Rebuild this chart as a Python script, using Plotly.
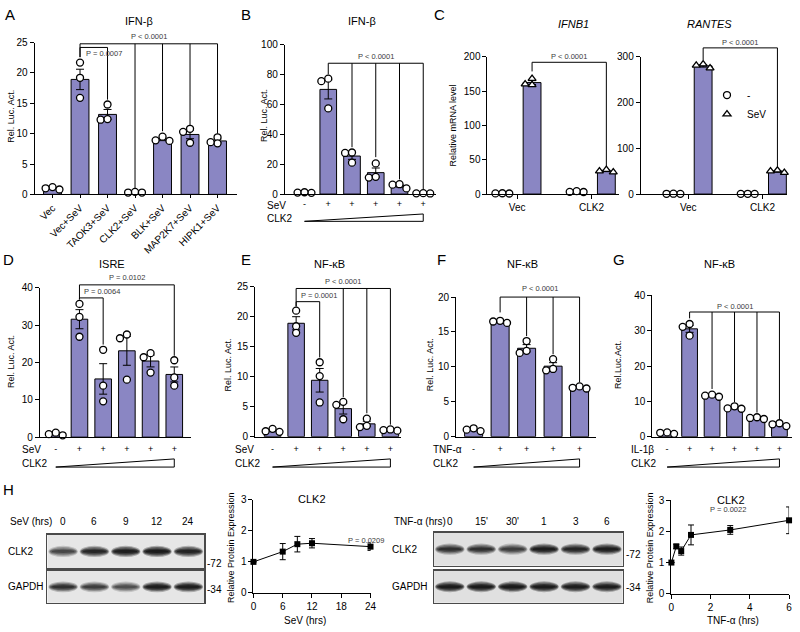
import numpy as np
import plotly.graph_objects as go

W, H = 800, 632
FONT = "Liberation Sans, Arial, Helvetica, sans-serif"
BAR_COLOR = "#8a86c3"
P_COLOR = "#3a3a3a"

# ---------------- data ----------------
A_CATS = ["Vec", "Vec+SeV", "TAOK3+SeV", "CLK2+SeV", "BLK+SeV", "MAP2K7+SeV", "HIPK1+SeV"]
A_PTS = [[0.8, 1.2, 1.0], [21.7, 19.2, 15.9], [14.8, 12.3, 12.4], [0.3, 0.4, 0.3],
         [9.5, 8.8, 8.9], [10.3, 8.5, 10.8], [9.4, 8.4, 8.6]]

B_SEV = ["-", "+", "+", "+", "+", "+"]
B_PTS = [[0.8, 1.0, 1.2], [75.5, 57.3, 77.2], [27.5, 27.8, 21.0], [20.5, 11.0, 11.5],
         [6.3, 3.8, 6.6], [0.4, 0.5, 0.6]]

C_GROUPS = ["Vec", "CLK2"]
C_IFNB1_MOCK = [[1.0, 0.8, 1.2], [3.0, 4.2, 3.2]]
C_IFNB1_SEV = [[160.0, 168.0, 159.0], [33.5, 35.5, 32.0]]
C_RANTES_MOCK = [[0.6, 0.5, 0.8], [0.5, 0.6, 0.4]]
C_RANTES_SEV = [[275.0, 284.0, 281.0], [47.0, 52.0, 50.0]]

D_SEV = ["-", "+", "+", "+", "+", "+"]
D_PTS = [[0.5, 1.2, 0.8], [35.7, 32.2, 26.9], [23.4, 13.8, 9.6], [26.5, 27.5, 15.4],
         [21.4, 22.5, 17.3], [20.6, 16.0, 13.8]]

E_SEV = ["-", "+", "+", "+", "+", "+"]
E_PTS = [[1.3, 0.8, 0.9], [21.0, 18.4, 17.3], [12.4, 10.1, 5.7], [5.3, 5.8, 2.9],
         [3.0, 1.6, 1.8], [1.1, 1.0, 1.2]]

F_TNF = ["-", "+", "+", "+", "+"]
F_PTS = [[0.8, 1.2, 1.0], [16.3, 16.6, 16.5], [13.7, 12.0, 12.3], [11.1, 9.5, 9.7],
         [7.2, 6.9, 7.0]]

G_IL1B = ["-", "+", "+", "+", "+", "+"]
G_PTS = [[0.8, 1.1, 1.2], [31.9, 31.1, 28.6], [11.6, 11.9, 11.3], [8.6, 8.0, 7.9],
         [5.5, 5.0, 5.3], [3.8, 3.0, 3.5]]

H_SEV_LANES = ["0", "6", "9", "12", "24"]
H_SEV_CLK2_BAND = [0.55, 0.8, 0.9, 0.95, 0.85]
H_SEV_GAPDH_BAND = [0.7, 0.6, 0.5, 0.9, 0.9]
H_SEV_T = [0, 6, 9, 12, 24]
H_SEV_MEAN = [1.0, 1.33, 1.57, 1.6, 1.49]
H_SEV_SEM = [0.0, 0.26, 0.25, 0.15, 0.12]

H_TNF_LANES = ["0", "15'", "30'", "1", "3", "6"]
H_TNF_CLK2_BAND = [0.7, 0.7, 0.6, 0.9, 0.8, 0.9]
H_TNF_GAPDH_BAND = [0.95, 0.95, 0.95, 0.93, 0.92, 0.9]
H_TNF_T = [0, 0.25, 0.5, 1, 3, 6]
H_TNF_MEAN = [1.0, 1.52, 1.37, 1.89, 2.05, 2.36]
H_TNF_SEM = [0.0, 0.07, 0.13, 0.32, 0.14, 0.43]

# ---------------- helpers ----------------
layout = dict(width=W, height=H, autosize=False, margin=dict(l=0, r=0, t=0, b=0),
              paper_bgcolor="white", plot_bgcolor="rgba(0,0,0,0)",
              font=dict(family=FONT, size=10, color="black"), showlegend=True,
              legend=dict(x=712 / W, y=1 - 76 / H, xanchor="left", yanchor="top",
                          bgcolor="rgba(0,0,0,0)", font=dict(family=FONT, size=10),
                          itemwidth=30, tracegroupgap=0))
traces, shapes, annots = [], [], []
_n = [0]


def add_axes(xd, yd, xkw, ykw):
    _n[0] += 1
    s = "" if _n[0] == 1 else str(_n[0])
    layout["xaxis" + s] = dict(domain=xd, anchor="y" + s, **xkw)
    layout["yaxis" + s] = dict(domain=yd, anchor="x" + s, **ykw)
    return "x" + s, "y" + s


def ax(**kw):
    d = dict(showgrid=False, zeroline=False, showline=True, linecolor="black", linewidth=1,
             ticks="outside", ticklen=4, tickwidth=1, tickcolor="black",
             tickfont=dict(family=FONT, size=10, color="black"), fixedrange=True)
    d.update(kw)
    return d


def hid(r):
    return dict(visible=False, range=r, fixedrange=True)


def text(x, y, s, size=10, xanchor="center", yanchor="middle", color="black", angle=0):
    annots.append(dict(x=x / W, y=1 - y / H, xref="paper", yref="paper", text=s, showarrow=False,
                       xanchor=xanchor, yanchor=yanchor, textangle=angle,
                       font=dict(family=FONT, size=size, color=color)))


def beeswarm(vals, scale, ppc, diam=7.0):
    order = sorted(range(len(vals)), key=lambda i: -vals[i])
    placed, offs = [], [0.0] * len(vals)
    for i in order:
        py = vals[i] * scale
        px = 0.0
        for c in [0, -1, 1, -2, 2]:
            px = c * diam
            if all((px - qx) ** 2 + (py - qy) ** 2 >= (diam * 0.85) ** 2 for qx, qy in placed):
                break
        placed.append((px, py))
        offs[i] = px / ppc
    return offs


def add_points(xa, ya, centers, groups, scale, ppc, symbol="circle", name=None):
    xs, ys = [], []
    for c, p in zip(centers, groups):
        offs = beeswarm(p, scale, ppc)
        xs += [c + o for o in offs]
        ys += list(p)
    traces.append(go.Scatter(x=xs, y=ys, mode="markers", name=name or "",
                             showlegend=name is not None,
                             marker=dict(symbol=symbol, size=7, color="white",
                                         line=dict(color="black", width=1.3)),
                             xaxis=xa, yaxis=ya, cliponaxis=False, hoverinfo="skip"))


def add_bars(xa, ya, centers, groups, width):
    means = [float(np.mean(p)) for p in groups]
    sems = [float(np.std(p, ddof=1) / np.sqrt(len(p))) for p in groups]
    traces.append(go.Bar(x=centers, y=means, width=width, showlegend=False,
                         marker=dict(color=BAR_COLOR, line=dict(color="black", width=1)),
                         xaxis=xa, yaxis=ya, hoverinfo="skip"))
    traces.append(go.Scatter(x=centers, y=means, mode="markers", showlegend=False,
                             marker=dict(size=1, color="rgba(0,0,0,0)"),
                             error_y=dict(type="data", array=sems, color="black", thickness=1, width=4),
                             xaxis=xa, yaxis=ya, cliponaxis=False, hoverinfo="skip"))


def bar_panel(pts, xl, xr, y0, ytv, ytp, xrange, yticks, bar_w, top_px, bottom_px, xlabels=None):
    scale = (y0 - ytp) / ytv
    xd = [xl / W, xr / W]
    xkw = ax(range=xrange, ticks="", showticklabels=False)
    if xlabels is not None:
        xkw.update(tickvals=list(range(len(xlabels))), ticktext=xlabels, tickangle=-45,
                   ticks="outside", ticklen=3, showticklabels=True)
    xa, ya = add_axes(xd, [1 - y0 / H, 1 - ytp / H], xkw, ax(range=[0, ytv], tickvals=yticks))
    xo, yo = add_axes(xd, [1 - bottom_px / H, 1 - top_px / H], hid(xrange),
                      hid([-(bottom_px - y0) / scale, (y0 - top_px) / scale]))
    ppc = (xr - xl) / (xrange[1] - xrange[0])
    pos = list(range(len(pts)))
    add_bars(xa, ya, pos, pts, bar_w)
    add_points(xa, ya, pos, pts, scale, ppc)
    return dict(xa=xa, ya=ya, xo=xo, yo=yo, n=len(pts), v=lambda py: (y0 - py) / scale)


def bracket(P, y, drops, label, ly, lx=None, anchor="center"):
    xs = [d[0] for d in drops]
    X, Y = [min(xs), max(xs), None], [y, y, None]
    for dx, dy in drops:
        X += [dx, dx, None]
        Y += [y, dy, None]
    traces.append(go.Scatter(x=X, y=Y, mode="lines", showlegend=False, line=dict(color="black", width=1),
                             xaxis=P["xo"], yaxis=P["yo"], hoverinfo="skip"))
    if lx is None:
        lx = (min(xs) + max(xs)) / 2
    annots.append(dict(x=lx, y=ly, xref=P["xo"], yref=P["yo"], text=label, showarrow=False,
                       xanchor=anchor, yanchor="middle",
                       font=dict(family=FONT, size=7.5, color=P_COLOR)))


def treat_rows(P, name, signs, row_px, wedge_top, wedge_bot, clk_px, label_x):
    n = P["n"]
    yv = P["v"](row_px)
    traces.append(go.Scatter(x=list(range(n)), y=[yv] * n, mode="text", text=signs, showlegend=False,
                             textfont=dict(family=FONT, size=9, color="black"),
                             xaxis=P["xo"], yaxis=P["yo"], hoverinfo="skip"))
    wt, wb = P["v"](wedge_top), P["v"](wedge_bot)
    traces.append(go.Scatter(x=[0, n - 1, n - 1, 0], y=[wb, wt, wb, wb], mode="lines", fill="toself",
                             fillcolor="white", line=dict(color="black", width=1), showlegend=False,
                             xaxis=P["xo"], yaxis=P["yo"], hoverinfo="skip"))
    text(label_x, row_px, name, size=10, xanchor="left")
    text(label_x, clk_px, "CLK2", size=10, xanchor="left")


def c_panel(mock, sev, xl, xr, y0, ytv, ytp, xrange, yticks, top_px, legend=False):
    scale = (y0 - ytp) / ytv
    xd = [xl / W, xr / W]
    xa, ya = add_axes(xd, [1 - y0 / H, 1 - ytp / H],
                      ax(range=xrange, tickvals=[0, 1], ticktext=C_GROUPS),
                      ax(range=[0, ytv], tickvals=yticks))
    xo, yo = add_axes(xd, [1 - (y0 + 5) / H, 1 - top_px / H], hid(xrange),
                      hid([-5 / scale, (y0 - top_px) / scale]))
    ppc = (xr - xl) / (xrange[1] - xrange[0])
    mpos = [i - 0.2 for i in range(len(C_GROUPS))]
    spos = [i + 0.2 for i in range(len(C_GROUPS))]
    add_bars(xa, ya, mpos + spos, mock + sev, 0.24)
    add_points(xa, ya, mpos, mock, scale, ppc, "circle", "-" if legend else None)
    add_points(xa, ya, spos, sev, scale, ppc, "triangle-up", "SeV" if legend else None)
    return dict(xa=xa, ya=ya, xo=xo, yo=yo, n=2, v=lambda py: (y0 - py) / scale)


def blot(lanes, bands, xl, xr, boxes, lane_y, cond, cond_x, mw, mw_y, bg):
    n = len(lanes)
    first = None
    for (top, bot), inten, rname, mwt, my in zip(boxes, bands, ["CLK2", "GAPDH"], mw, mw_y):
        xa, ya = add_axes([xl / W, xr / W], [1 - bot / H, 1 - top / H],
                          dict(range=[-0.5, n - 0.5], showgrid=False, zeroline=False, showline=True,
                               mirror=True, linecolor="#4a4a4a", linewidth=1.5, ticks="",
                               showticklabels=False, fixedrange=True),
                          dict(range=[0, 1], showgrid=False, zeroline=False, showline=True,
                               mirror=True, linecolor="#4a4a4a", linewidth=1.5, ticks="",
                               showticklabels=False, fixedrange=True))
        if first is None:
            first = xa
        shapes.append(dict(type="rect", xref=xa + " domain", yref=ya + " domain", x0=0, x1=1, y0=0, y1=1,
                           fillcolor=bg, line=dict(width=0), layer="below"))
        for i, I in enumerate(inten):
            for hw, hh, a in [(0.47, 0.17, 0.3), (0.45, 0.13, 0.45), (0.42, 0.09, 0.6), (0.37, 0.05, 0.7)]:
                shapes.append(dict(type="circle", xref=xa, yref=ya, x0=i - hw, x1=i + hw,
                                   y0=0.5 - hh, y1=0.5 + hh, line=dict(width=0),
                                   fillcolor="rgba(15,15,15,%.3f)" % min(1.0, a * I)))
        text(cond_x - 2, (top + bot) / 2, rname, size=10, xanchor="left")
        text(xr + 1, my, "-" + mwt, size=10, xanchor="left")
    for i, lab in enumerate(lanes):
        annots.append(dict(x=i, y=1 - lane_y / H, xref=first, yref="paper", text=lab, showarrow=False,
                           xanchor="center", yanchor="middle", font=dict(family=FONT, size=10)))
    text(cond_x, lane_y, cond, size=10, xanchor="left")


def line_panel(t, m, s, xl, xr, y0, y3, xrange, xticks):
    xa, ya = add_axes([xl / W, xr / W], [1 - y0 / H, 1 - y3 / H],
                      ax(range=xrange, tickvals=xticks), ax(range=[0, 3], tickvals=[0, 1, 2, 3]))
    traces.append(go.Scatter(x=t, y=m, mode="lines+markers", showlegend=False,
                             marker=dict(symbol="square", size=6, color="black"),
                             line=dict(color="black", width=1),
                             error_y=dict(type="data", array=s, color="black", thickness=1, width=3),
                             xaxis=xa, yaxis=ya, cliponaxis=False, hoverinfo="skip"))
    return xa, ya


# ---------------- panel A ----------------
A = bar_panel(A_PTS, 32, 237, 192, 25, 37.3, [-0.65, 6.72], [0, 5, 10, 15, 20, 25], 0.65, 20, 200, A_CATS)
bracket(A, 24.8, [(1, 22.6), (3, 0.9), (4, 10.4), (5, 11.4), (6, 10.0)], "P < 0.0001", 26.0)
bracket(A, 24.2, [(1, 22.6), (2, 15.6)], "P = 0.0007", 23.2, lx=1.15, anchor="left")
text(138, 15, "IFN-β", 11)
text(8, 112, "Rel. Luc. Act.", 9, angle=-90)
text(7, 9, "A", 15)

# ---------------- panel B ----------------
B = bar_panel(B_PTS, 285, 438, 191.7, 100, 39.3, [-0.83, 5.54], [0, 20, 40, 60, 80, 100], 0.7, 20, 225)
bracket(B, 87.5, [(1, 80), (2, 31.3), (3, 24.7), (4, 9.8), (5, 3.3)], "P < 0.0001", 92)
treat_rows(B, "SeV", B_SEV, 203, 212, 219.5, 216.5, 265)
text(363, 15, "IFN-β", 11)
text(264, 112, "Rel. Luc. Act.", 9, angle=-90)
text(246, 9, "B", 15)

# ---------------- panel C ----------------
C1 = c_panel(C_IFNB1_MOCK, C_IFNB1_SEV, 490, 623, 191.7, 200, 51.7, [-0.4, 1.37], [0, 50, 100, 150, 200], 25)
bracket(C1, 191.9, [(0.2, 178.6), (1.2, 40.5)], "P < 0.0001", 200.5)
C2 = c_panel(C_RANTES_MOCK, C_RANTES_SEV, 645, 793, 191.7, 300, 51.7, [-0.64, 1.33], [0, 100, 200, 300], 25, True)
bracket(C2, 319.3, [(0.2, 293), (1.2, 57.9)], "P < 0.0001", 332)
text(577, 18, "<i>IFNB1</i>", 11)
text(715, 18, "<i>RANTES</i>", 11)
text(455, 122, "Relative mRNA level", 9, angle=-90)
text(441, 9, "C", 15)

# ---------------- panel D ----------------
D = bar_panel(D_PTS, 37.3, 190, 439.5, 40, 287.3, [-0.67, 5.7], [0, 10, 20, 30, 40], 0.7, 268, 475)
bracket(D, 40.8, [(1, 36.9), (5, 21.8)], "P = 0.0102", 42.7)
bracket(D, 37.3, [(1, 36.9), (2, 24.8)], "P = 0.0064", 38.9, lx=1.1, anchor="left")
treat_rows(D, "SeV", D_SEV, 452.3, 461.7, 470, 466.5, 16.7)
text(110, 263, "ISRE", 11)
text(8, 362, "Rel. Luc. Act.", 9, angle=-90)
text(6, 258, "D", 15)

# ---------------- panel E ----------------
E = bar_panel(E_PTS, 255, 403, 439, 25, 286.1, [-0.74, 5.47], [0, 5, 10, 15, 20, 25], 0.7, 268, 475)
bracket(E, 24.7, [(1, 21.7), (3, 6.6), (4, 3.9), (5, 2.0)], "P < 0.0001", 25.9)
bracket(E, 22.5, [(1, 21.7), (2, 13.2)], "P = 0.0001", 23.6, lx=1.12, anchor="left")
treat_rows(E, "SeV", E_SEV, 452.3, 461.7, 470, 466.5, 233)
text(330, 263, "NF-κB", 11)
text(228, 366, "Rel. Luc. Act.", 9, angle=-90)
text(246, 258, "E", 15)

# ---------------- panel F ----------------
F = bar_panel(F_PTS, 458.3, 600, 439, 20, 296.7, [-0.66, 4.63], [0, 5, 10, 15, 20], 0.68, 268, 475)
bracket(F, 20.0, [(1, 17.8), (2, 14.4), (3, 11.8), (4, 7.8)], "P < 0.0001", 21.2)
treat_rows(F, "TNF-α", F_TNF, 452.3, 461.7, 470, 466.5, 433)
text(525, 263, "NF-κB", 11)
text(432, 366, "Rel. Luc. Act.", 9, angle=-90)
text(443, 258, "F", 15)

# ---------------- panel G ----------------
G = bar_panel(G_PTS, 656.7, 798, 439, 40, 295, [-0.66, 5.56], [0, 10, 20, 30, 40], 0.7, 268, 475)
bracket(G, 35.3, [(1, 33.5), (2, 13.5), (3, 9.8), (4, 6.8), (5, 5.0)], "P < 0.0001", 36.8)
treat_rows(G, "IL-1β", G_IL1B, 452.3, 461.7, 470, 466.5, 633)
text(725, 263, "NF-κB", 11)
text(622, 366, "Rel.Luc.Act.", 9, angle=-90)
text(623, 258, "G", 15)

# ---------------- panel H ----------------
text(6, 493, "H", 15)
blot(H_SEV_LANES, [H_SEV_CLK2_BAND, H_SEV_GAPDH_BAND], 45, 203.3, [(539, 573), (576, 608.3)],
     525.7, "SeV (hrs)", 5, ["72", "34"], [568, 595], "#e6e6e6")
blot(H_TNF_LANES, [H_TNF_CLK2_BAND, H_TNF_GAPDH_BAND], 436, 626.7, [(536.7, 570.7), (575.7, 608.3)],
     525.7, "TNF-α (hrs)", 393, ["72", "34"], [559.3, 592.7], "#e0e0e0")

hx, hy = line_panel(H_SEV_T, H_SEV_MEAN, H_SEV_SEM, 253.3, 371.7, 598.3, 503.3, [0, 24], [0, 6, 12, 18, 24])
annots.append(dict(x=23, y=1.7, xref=hx, yref=hy, text="P = 0.0209", showarrow=False,
                   font=dict(family=FONT, size=7.5, color=P_COLOR)))
text(313, 503, "CLK2", 11)
text(305, 626, "SeV (hrs)", 10)
text(230, 552, "Relative Protein Expression", 9, angle=-90)

tx, ty = line_panel(H_TNF_T, H_TNF_MEAN, H_TNF_SEM, 676, 795, 599, 504, [0, 6], [0, 2, 4, 6])
text(736.7, 503.3, "CLK2", 11)
text(733, 513.5, "P = 0.0022", 7.5, color=P_COLOR)
text(738, 626, "TNF-α (hrs)", 10)
text(654, 552, "Relative Protein Expression", 9, angle=-90)

layout["shapes"] = shapes
layout["annotations"] = annots
fig = go.Figure(data=traces, layout=layout)
fig.write_html("out.html", config={"displayModeBar": False, "staticPlot": True},
               post_script="document.body.style.margin='0px';document.body.style.padding='0px';")
